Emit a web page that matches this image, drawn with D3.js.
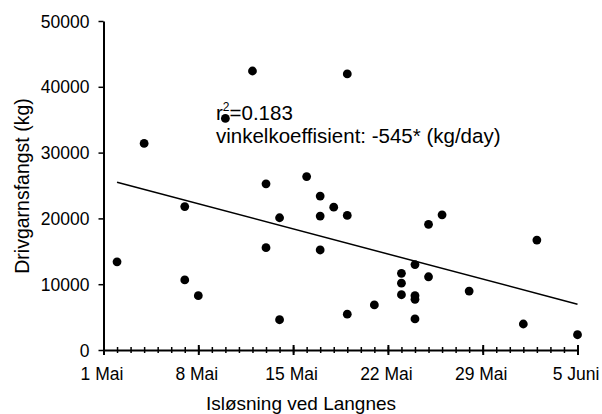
<!DOCTYPE html>
<html>
<head>
<meta charset="utf-8">
<script src="https://cdn.jsdelivr.net/npm/d3@7/dist/d3.min.js"></script>
<style>
  html, body { margin: 0; padding: 0; background: #fff; }
  text { font-family: "Liberation Sans", Arial, Helvetica, sans-serif; fill: #000; }
</style>
</head>
<body>
<svg id="chart" width="602" height="414"></svg>
<script>
// Data: day offset from 1 Mai, catch in kg
const days = [1, 3, 6, 6, 7, 9, 11, 12, 12, 13, 13, 15, 16, 16, 16, 17, 18, 18, 18, 20, 22, 22, 22, 23, 23, 23, 23, 24, 24, 25, 27, 31, 32, 35];
const catchKg = [13400, 31400, 21800, 10650, 8250, 35200, 42400, 25250, 15550, 20100, 4600, 26350, 23400, 20350, 15200, 21700, 41950, 20450, 5450, 6850, 11650, 10150, 8400, 12980, 8250, 7700, 4720, 19100, 11130, 20550, 8950, 3950, 16700, 2320];
const trendDays = [1, 35];
const trendKg = [25490, 6960];
const xTickDays = [0, 7, 14, 21, 28, 35];
const xTickLabels = ["1 Mai", "8 Mai", "15 Mai", "22 Mai", "29 Mai", "5 Juni"];
const yTicks = [0, 10000, 20000, 30000, 40000, 50000];
const yTitle = "Drivgarnsfangst (kg)";
const xTitle = "Isløsning ved Langnes";
const annotR2 = "0.183";
const annotSlope = "vinkelkoeffisient: -545* (kg/day)";

const svg = d3.select("#chart");
const x = d3.scaleLinear().domain([0, 35]).range([103.5, 577.5]);
const y = d3.scaleLinear().domain([0, 50000]).range([350, 21]);

// Y axis
const yAxis = svg.append("g")
  .attr("transform", `translate(${x(0)},0)`)
  .call(d3.axisLeft(y).tickValues(yTicks).tickSize(5).tickSizeOuter(0).tickPadding(9).tickFormat(d3.format("d")));
yAxis.select(".domain").attr("stroke", "#000").attr("stroke-width", 2);
yAxis.selectAll(".tick line").attr("stroke", "#000").attr("stroke-width", 1.5);
yAxis.selectAll(".tick text").attr("font-size", 17.5).attr("font-family", "Liberation Sans, Arial, sans-serif").attr("dy", "0.35em");

// X axis minor ticks (every day)
const xMinor = svg.append("g")
  .attr("transform", `translate(0,${y(0)})`)
  .call(d3.axisBottom(x).tickValues(d3.range(0, 36)).tickSize(3).tickSizeOuter(0).tickFormat(""));
xMinor.select(".domain").attr("stroke", "#000").attr("stroke-width", 2);
xMinor.selectAll(".tick line").attr("y1", -3).attr("y2", 3).attr("stroke", "#000").attr("stroke-width", 1.5);

// X axis major ticks with labels
const xMajor = svg.append("g")
  .attr("transform", `translate(0,${y(0)})`)
  .call(d3.axisBottom(x).tickValues(xTickDays).tickSize(5).tickSizeOuter(0).tickPadding(13)
    .tickFormat((d, i) => xTickLabels[i]));
xMajor.select(".domain").remove();
xMajor.selectAll(".tick line").attr("y1", -5).attr("y2", 5).attr("stroke", "#000").attr("stroke-width", 2);
xMajor.selectAll(".tick text").attr("font-size", 17.5).attr("font-family", "Liberation Sans, Arial, sans-serif").attr("dx", -2);

// Trend line
svg.append("line")
  .attr("x1", x(trendDays[0])).attr("y1", y(trendKg[0]))
  .attr("x2", x(trendDays[1])).attr("y2", y(trendKg[1]))
  .attr("stroke", "#000").attr("stroke-width", 1.5);

// Points
svg.append("g").selectAll("circle")
  .data(days.map((d, i) => ({ d, v: catchKg[i] })))
  .join("circle")
  .attr("cx", p => x(p.d)).attr("cy", p => y(p.v)).attr("r", 4.4)
  .attr("fill", "#000");

// Annotation
const t1 = svg.append("text").attr("x", 216).attr("y", 120).attr("font-size", 20.5);
t1.append("tspan").text("r");
t1.append("tspan").attr("font-size", 12).attr("dy", -9).text("2");
t1.append("tspan").attr("dy", 9).text("=" + annotR2);
svg.append("text").attr("x", 216).attr("y", 143).attr("font-size", 20.5).text(annotSlope);

// Axis titles
svg.append("text").attr("x", 301).attr("y", 410).attr("text-anchor", "middle").attr("font-size", 19).text(xTitle);
svg.append("text").attr("transform", "translate(29,186) rotate(-90)").attr("text-anchor", "middle").attr("font-size", 19.5).text(yTitle);
</script>
</body>
</html>
